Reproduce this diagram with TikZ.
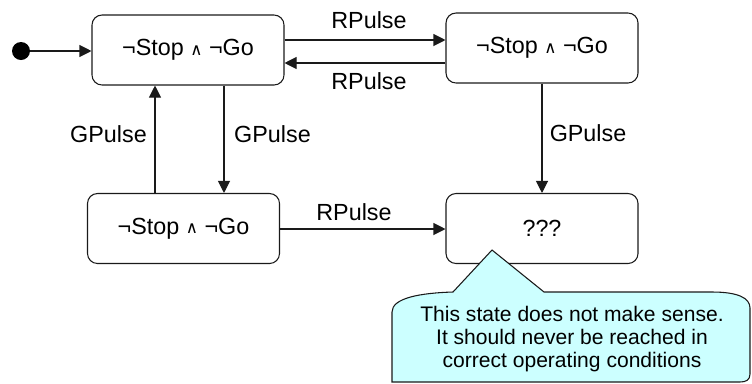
\documentclass[tikz,border=0pt]{standalone}
\usepackage{fontspec}
\setmainfont{Liberation Sans}
\newfontfamily\symfont{DejaVu Sans}
\usetikzlibrary{arrows.meta}
\definecolor{notefill}{HTML}{CCFFFF}
\definecolor{linegray}{HTML}{1A1A1A}
\newcommand{\andsym}{{\symfont\fontsize{12.5}{12.5}\selectfont\raisebox{0.3pt}{∧}}}
\newcommand{\statetext}{¬Stop \andsym{} ¬Go}
\begin{document}
\begin{tikzpicture}[x=0.75pt,y=-0.75pt,
  every node/.style={font=\fontsize{17.5}{19}\selectfont, text=black},
  state/.style={draw=linegray, line width=0.8pt, rounded corners=7.5pt,
    minimum width=144pt, minimum height=52.5pt, inner sep=0pt},
  arr/.style={draw=linegray, line width=0.8pt,
    -{Triangle[length=9pt,width=9pt]}},
  lbl/.style={inner sep=0pt}]
\useasboundingbox (0,0) rectangle (752,383);

% states
\node[state] (A) at (188,50) {\statetext};
\node[state] (B) at (542,48) {\statetext};
\node[state] (C) at (183.5,228.5) {\statetext};
\node[state] (D) at (542,228.5) {???};

% initial pseudo-state
\node[circle, fill=black, minimum size=13.5pt, inner sep=0pt] (init) at (21,51) {};
\draw[arr] (init) -- (init -| A.west);

% A <-> B
\coordinate (ab) at (A.east |- 0,40);
\coordinate (ba) at (B.west |- 0,63);
\draw[arr] (ab) -- (ab -| B.west);
\draw[arr] (ba) -- (ba -| A.east);
\node[lbl] (lab1) at (369,20.5) {RPulse};
\node[lbl] (lab2) at (369,81.5) {RPulse};

% A <-> C
\coordinate (ca) at (C.north -| 155,0);
\coordinate (ac) at (A.south -| 224,0);
\draw[arr] (ca) -- (ca |- A.south);
\draw[arr] (ac) -- (ac |- C.north);
\node[lbl] (lab3) at (108.5,134) {GPulse};
\node[lbl] (lab4) at (272.5,134) {GPulse};

% B -> D, C -> D
\draw[arr] (B.south) -- (D.north);
\node[lbl] (lab5) at (588,133) {GPulse};
\coordinate (cd) at (C.east |- 0,229);
\draw[arr] (cd) -- (cd -| D.west);
\node[lbl] (lab6) at (354,212) {RPulse};

% note callout
\draw[draw=linegray, line width=0.8pt, fill=notefill]
  (392,382) -- (392,312)
  .. controls (392,298) and (420,293) .. (453,292)
  -- (492,250) -- (544,292) -- (712,292)
  .. controls (738,292) and (750,298) .. (750,308)
  -- (750,374) .. controls (750,380) and (746,382) .. (740,382)
  -- (402,382) .. controls (396,382) and (392,382) .. cycle;
\node[align=center, inner sep=0pt, font=\fontsize{15.8}{17.25}\selectfont] (note) at (572,339)
  {This state does not make sense.\\It should never be reached in\\correct operating conditions};
\end{tikzpicture}
\end{document}
